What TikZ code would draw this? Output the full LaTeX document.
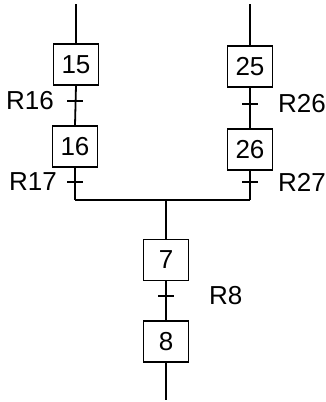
\documentclass[tikz,border=0pt]{standalone}
\usepackage{fontspec}
\setmainfont{Liberation Sans}
\begin{document}
\begin{tikzpicture}[x=1pt,y=-1pt,
  stepbox/.style={draw,line width=1.3pt,minimum width=45pt,minimum height=41pt,inner sep=0pt,font=\fontsize{26}{30}\selectfont},
  lbl/.style={font=\fontsize{26}{30}\selectfont,inner sep=0pt},
  link/.style={line width=1.8pt},
  tick/.style={line width=1.5pt}]
\useasboundingbox (0,0) rectangle (326,402);
% left branch
\coordinate (lt) at (76,4);
\node[stepbox] (s15) at (76,64.5) {15};
\node[stepbox] (s16) at (75,146.5) {16};
\coordinate (t16) at (75,101);
\coordinate (t17) at (75,182);
\coordinate (jl) at (75,200);
% right branch
\coordinate (rt) at (250,4);
\node[stepbox] (s25) at (250,66.5) {25};
\node[stepbox] (s26) at (250,149.5) {26};
\coordinate (t26) at (250,104);
\coordinate (t27) at (250,182);
\coordinate (jr) at (250,200);
% join
\coordinate (jc) at (166,200);
\node[stepbox] (s7) at (166,260) {7};
\node[stepbox] (s8) at (166,341.5) {8};
\coordinate (t8) at (166,296);
\coordinate (bt) at (166,400);
% links
\draw[link] (lt) -- (s15.north);
\draw[link] (s15.south) -- (s16.north);
\draw[link] (s16.south) -- (jl);
\draw[link] (rt) -- (s25.north);
\draw[link] (s25.south) -- (s26.north);
\draw[link] (s26.south) -- (jr);
\draw[line width=1.5pt] (jl) -- (jr);
\draw[link] (jc) -- (s7.north);
\draw[link] (s7.south) -- (s8.north);
\draw[link] (s8.south) -- (bt);
% ticks
\foreach \t in {t16,t17,t26,t27,t8}
  \draw[tick] ([xshift=-8pt]\t) -- ([xshift=8pt]\t);
% labels
\node[lbl,anchor=east] (l16) at (54,101) {R16};
\node[lbl,anchor=east] (l17) at (57,182) {R17};
\node[lbl,anchor=west] (l26) at (278,104) {R26};
\node[lbl,anchor=west] (l27) at (278,182) {R27};
\node[lbl,anchor=west] (l8) at (209,296) {R8};
\end{tikzpicture}
\end{document}
